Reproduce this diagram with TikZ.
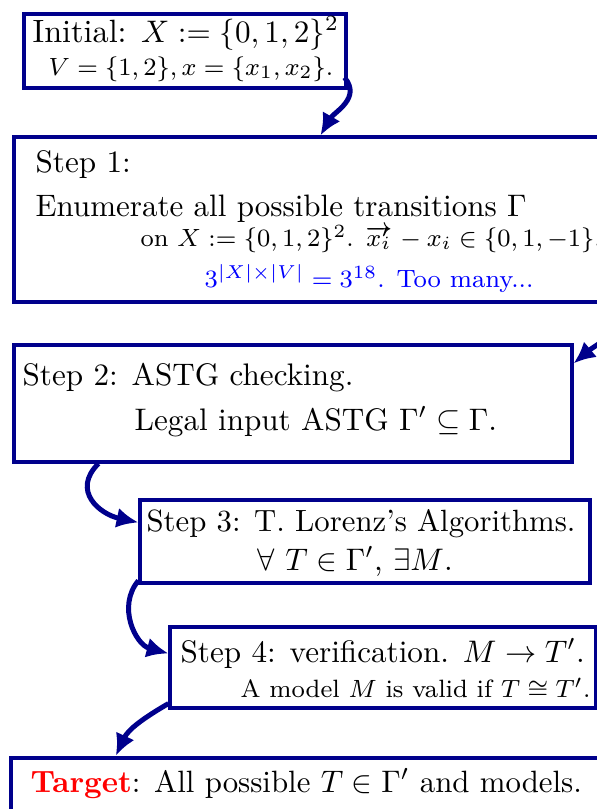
\documentclass[tikz,border=0pt]{standalone}
\usepackage{amsmath,amssymb}
\usetikzlibrary{calc,fit,arrows.meta}
\definecolor{navy}{RGB}{0,0,140}
\newcommand{\minor}{\fontsize{8.05}{10}\selectfont}
\begin{document}
\begin{tikzpicture}[x=0.321pt,y=-0.321pt,
  box/.style={draw=navy,line width=1pt,inner sep=0pt},
  txt/.style={anchor=base west,inner sep=0pt},
  flow/.style={draw=navy,line width=1.6pt,-{Latex[length=7pt,width=6.5pt]}}]
\useasboundingbox (0,0) rectangle (597,809);
\clip (0,0) rectangle (597,809);
% boxes
\node[box,fit={(24,14) (346,88)}] (init) {};
\node[box,fit={(14,137) (625,302)}] (step1) {};
\node[box,fit={(14,345) (572,462)}] (step2) {};
\node[box,fit={(140,500) (590,583)}] (step3) {};
\node[box,fit={(170,627) (596,708)}] (step4) {};
\node[box,line width=1.4pt,fit={(11,758) (640,840)}] (target) {};
% texts
\node[txt] (t0a) at (32,42) {\fontsize{10.35}{12}\selectfont Initial: $X:=\{0,1,2\}^2$};
\node[txt] (t0b) at (48,75) {\minor $V=\{1,2\},x=\{x_1,x_2\}.$};
\node[txt] (t1a) at (35,172) {Step 1:};
\node[txt] (t1b) at (35,216) {\fontsize{9.95}{12}\selectfont Enumerate all possible transitions $\Gamma$};
\node[txt] (t1c) at (140,246) {\fontsize{8.0}{10}\selectfont on $X:=\{0,1,2\}^2$. $\overrightarrow{x_i}\mkern-7mu{}^{\prime}\mkern3mu-x_i\in\{0,1,-1\}$.};
\node[txt,text=blue] (t1d) at (204,287) {\minor $3^{|X|\times|V|}=3^{18}$. Too many...};
\node[txt] (t2a) at (22,385) {Step 2: ASTG checking.};
\node[txt] (t2b) at (134,430) {Legal input ASTG $\Gamma'\subseteq\Gamma$.};
\node[txt] (t3a) at (146,531) {\fontsize{9.87}{12}\selectfont Step 3: T. Lorenz's Algorithms.};
\node[txt] (t3b) at (257,570) {$\forall\ T\in\Gamma'$, $\exists M$.};
\node[txt] (t4a) at (180,662) {Step 4: verification. $M\to T'$.};
\node[txt] (t4b) at (240,697) {\minor A model $M$ is valid if $T\cong T'$.};
\node[txt] (t5) at (30,792) {\fontsize{9.9}{12}\selectfont\textcolor{red}{\textbf{Target}}: All possible $T\in\Gamma'$ and models.};
% connectors
\draw[flow] ($(init.south east)+(-3,-12)$) to[out=-50,in=60,looseness=1.1] ($(step1.north west)+(308,0)$);
\draw[flow] (step1.south east) to[out=-100,in=40] ($(step2.north east)+(0,20)$);
\draw[flow] ($(step2.south west)+(86,0)$) to[out=-135,in=168,looseness=1.4] ($(step3.north west)+(0,24)$);
\draw[flow] ($(step3.south west)+(0,-4)$) to[out=-130,in=165,looseness=1.1] ($(step4.north west)+(0,28)$);
\draw[flow] ($(step4.south west)+(0,-6)$) to[out=-150,in=65] ($(target.north west)+(107,0)$);
\end{tikzpicture}
\end{document}
